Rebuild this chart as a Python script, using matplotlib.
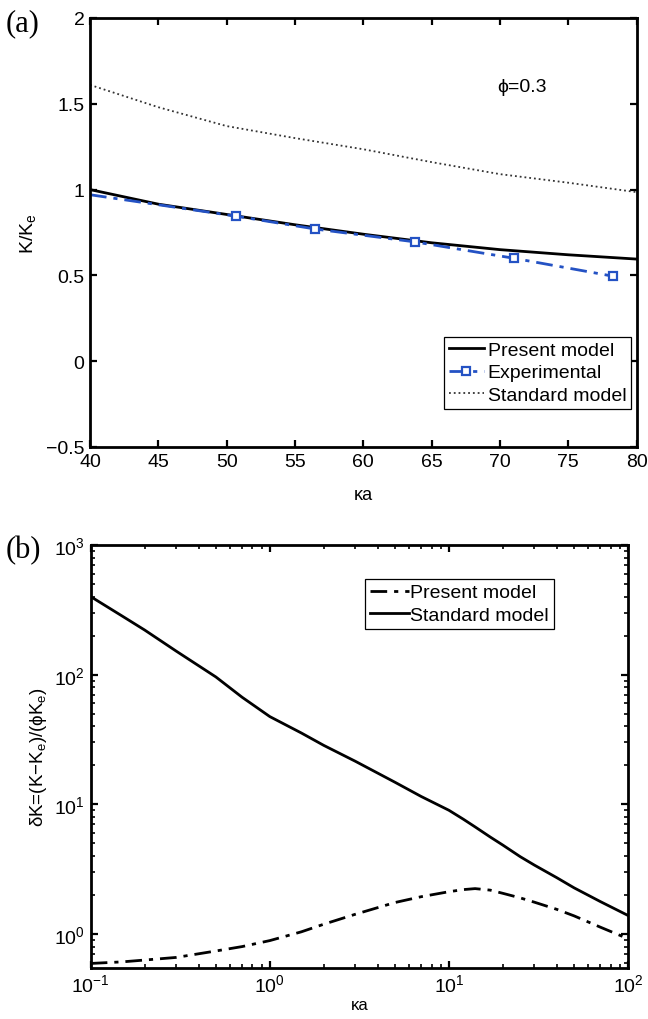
import matplotlib
matplotlib.use("Agg")
import matplotlib.pyplot as plt
from matplotlib.ticker import FixedLocator, LogLocator, NullFormatter

plt.rcParams['font.family'] = ['Liberation Sans', 'DejaVu Sans']
plt.rcParams['mathtext.default'] = 'regular'

# (a) normalised modulus vs ka, phi = 0.3
ka_a = [40, 45, 50, 55, 60, 65, 70, 75, 80]
present_a = [1.00, 0.915, 0.855, 0.795, 0.74, 0.69, 0.65, 0.62, 0.595]
standard_a = [1.61, 1.48, 1.37, 1.30, 1.235, 1.16, 1.09, 1.04, 0.985]
ka_exp = [40.0, 50.7, 56.5, 63.8, 71.0, 78.3]
k_exp = [0.97, 0.845, 0.77, 0.695, 0.60, 0.495]
yticks_a = [-0.5, 0, 0.5, 1, 1.5, 2]
xticks_a = [40, 45, 50, 55, 60, 65, 70, 75, 80]

# (b) relative deviation vs ka (log-log)
ka_b = [0.1, 0.15, 0.2, 0.3, 0.5, 0.7, 1, 1.5, 2, 3, 5, 7, 10, 12, 14,
        17, 20, 25, 30, 40, 50, 70, 100]
present_b = [0.593, 0.61, 0.63, 0.66, 0.74, 0.80, 0.89, 1.04, 1.19, 1.42,
             1.75, 1.94, 2.12, 2.20, 2.24, 2.18, 2.06, 1.90, 1.76, 1.55,
             1.38, 1.13, 0.92]
standard_b = [400, 283, 221, 152, 96, 67, 47.5, 35.5, 28.5, 21.5, 14.8, 11.5,
              9.0, 7.7, 6.7, 5.6, 4.85, 3.95, 3.4, 2.72, 2.27, 1.78, 1.39]

fig = plt.figure(figsize=(6.48, 10.2), dpi=100)
ax1 = fig.add_axes([0.1389, 0.5608, 0.8434, 0.4206])
ax2 = fig.add_axes([0.1400, 0.0500, 0.8292, 0.4147])

blue = '#2452c4'

ax1.plot(ka_a, present_a, color='black', lw=2, label='Present model')
ax1.plot(ka_exp, k_exp, color=blue, lw=2, ls=(0, (6, 2.5, 1.5, 2.5)),
         marker='s', ms=6, mfc='white', mec=blue, mew=1.6,
         markevery=[1, 2, 3, 4, 5], label='Experimental')
ax1.plot(ka_a, standard_a, color='#333333', lw=1.3, ls=':', label='Standard model')
ax1.set_xlim(40, 80)
ax1.set_ylim(-0.5, 2)
ax1.set_xticks(xticks_a)
ax1.set_yticks(yticks_a)
ax1.set_yticklabels([('%g' % v).replace('-', '−') for v in yticks_a])
ax1.set_xlabel('κa', fontsize=13, labelpad=12)
ax1.set_ylabel('K/K$_e$', fontsize=14, labelpad=6)
ax1.text(71.6, 1.60, 'ϕ=0.3', fontsize=14, ha='center', va='center')
leg1 = ax1.legend(loc='lower right', bbox_to_anchor=(0.99, 0.089), fontsize=14,
                  fancybox=False, framealpha=1, edgecolor='black',
                  handlelength=1.8, handletextpad=0.2, borderpad=0.25,
                  labelspacing=0.25, borderaxespad=0)
leg1.get_frame().set_linewidth(0.9)

ax2.plot(ka_b, present_b, color='black', lw=2, ls=(0, (6, 2.5, 1.5, 2.5)),
         label='Present model')
ax2.plot(ka_b, standard_b, color='black', lw=2, label='Standard model')
ax2.set_xscale('log')
ax2.set_yscale('log')
ax2.set_xlim(0.1, 100)
ax2.set_ylim(0.547, 1000)
ax2.xaxis.set_major_locator(FixedLocator([0.1, 1, 10, 100]))
ax2.yaxis.set_major_locator(FixedLocator([1, 10, 100, 1000]))
ax2.xaxis.set_minor_locator(LogLocator(base=10, subs=range(2, 10)))
ax2.yaxis.set_minor_locator(LogLocator(base=10, subs=range(2, 10)))
ax2.xaxis.set_minor_formatter(NullFormatter())
ax2.yaxis.set_minor_formatter(NullFormatter())
ax2.set_xlabel('κa', fontsize=12, labelpad=1)
ax2.set_ylabel('δK=(K−K$_e$)/(ϕK$_e$)', fontsize=13.5, labelpad=4)
leg2 = ax2.legend(loc='upper left', bbox_to_anchor=(0.51, 0.92), fontsize=14,
                  fancybox=False, framealpha=1, edgecolor='black',
                  handlelength=2.0, handletextpad=0.1, borderpad=0.25,
                  labelspacing=0.25, borderaxespad=0)
leg2.get_frame().set_linewidth(0.9)

for ax in (ax1, ax2):
    for s in ax.spines.values():
        s.set_linewidth(2)
    ax.tick_params(which='major', direction='in', top=True, right=True,
                   length=5, width=1.6, labelsize=14, pad=4)
    ax.tick_params(which='minor', direction='in', top=True, right=True,
                   length=3, width=1.2)

fig.text(0.008, 0.9765, '(a)', fontsize=22, family='Liberation Serif',
         va='center', ha='left')
fig.text(0.008, 0.4600, '(b)', fontsize=22, family='Liberation Serif',
         va='center', ha='left')

fig.savefig('out.png', dpi=100)
